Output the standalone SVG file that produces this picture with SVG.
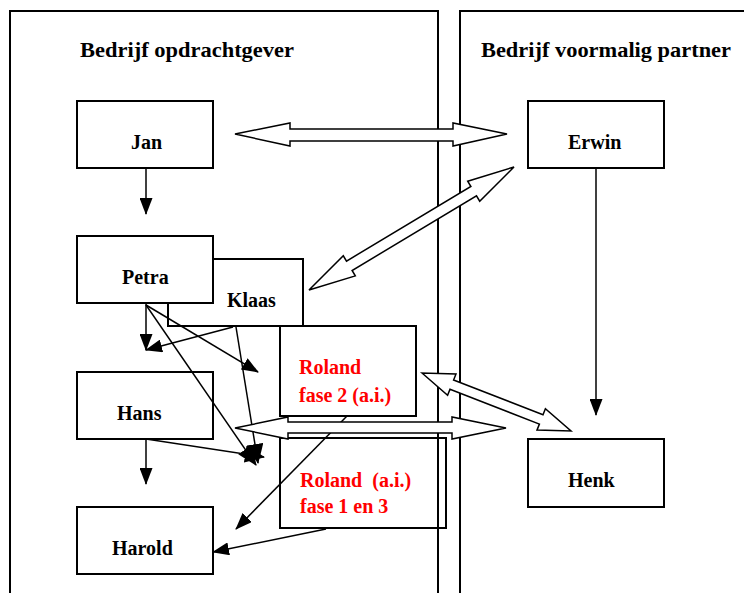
<svg xmlns="http://www.w3.org/2000/svg" width="744" height="593" viewBox="0 0 744 593">
  <style>
    .frame { fill: none; stroke: #000; stroke-width: 2; }
    .box { fill: #fff; stroke: #000; stroke-width: 2; }
    .open { fill: none; stroke: #000; stroke-width: 2; }
    .lbl { font-family: "Liberation Serif", "Times New Roman", serif; font-weight: bold; font-size: 20px; fill: #000; }
    .title { font-size: 21px; }
    .red { fill: #f00; }
    .ln { fill: none; stroke: #000; stroke-width: 1.5; marker-end: url(#ah); }
    .ln.big { marker-end: url(#ah-big); }
    .blk { fill: #fff; stroke: #000; stroke-width: 1.5; stroke-linejoin: miter; }
  </style>
  <defs>
    <marker id="ah" markerWidth="17" markerHeight="13" refX="16" refY="6.5" orient="auto" markerUnits="userSpaceOnUse">
      <path d="M0,0 L17,6.5 L0,13 z" fill="#000"/>
    </marker>
    <marker id="ah-big" markerWidth="20" markerHeight="17" refX="19" refY="8.5" orient="auto" markerUnits="userSpaceOnUse">
      <path d="M0,0 L20,8.5 L0,17 z" fill="#000"/>
    </marker>
  </defs>
  <rect width="744" height="593" fill="#fff"/>

  <!-- company frames -->
  <g id="frame-opdrachtgever">
    <path class="frame" d="M10,593 V11 H438 V593"/>
    <text class="lbl title" x="80" y="57" textLength="214" lengthAdjust="spacingAndGlyphs">Bedrijf opdrachtgever</text>
  </g>
  <g id="frame-partner">
    <path class="frame" d="M460,593 V11 H750"/>
    <text class="lbl title" x="481" y="57" textLength="250" lengthAdjust="spacingAndGlyphs">Bedrijf voormalig partner</text>
  </g>

  <!-- people -->
  <g id="klaas">
    <rect class="box" x="168" y="259" width="135" height="67"/>
    <text class="lbl" x="227" y="307">Klaas</text>
  </g>
  <g id="petra">
    <rect class="box" x="77" y="236" width="136" height="67"/>
    <text class="lbl" x="122" y="284">Petra</text>
  </g>
  <g id="jan">
    <rect class="box" x="77" y="101" width="136" height="67"/>
    <text class="lbl" x="131" y="149">Jan</text>
  </g>
  <g id="erwin">
    <rect class="box" x="528" y="101" width="136" height="67"/>
    <text class="lbl" x="568" y="149">Erwin</text>
  </g>
  <g id="hans">
    <rect class="box" x="77" y="372" width="136" height="67"/>
    <text class="lbl" x="117" y="420">Hans</text>
  </g>
  <g id="harold">
    <rect class="box" x="77" y="507" width="136" height="67"/>
    <text class="lbl" x="112" y="555">Harold</text>
  </g>
  <g id="henk">
    <rect class="box" x="528" y="439" width="136" height="68"/>
    <text class="lbl" x="568" y="487">Henk</text>
  </g>
  <g id="roland-fase2">
    <rect class="box" x="280" y="326" width="136" height="90"/>
    <text class="lbl red" x="299" y="374">Roland</text>
    <text class="lbl red" x="299" y="402">fase 2 (a.i.)</text>
  </g>
  <g id="roland-fase13">
    <rect class="open" x="280" y="438" width="166" height="90"/>
    <text class="lbl red" x="300" y="487" xml:space="preserve">Roland  (a.i.)</text>
    <text class="lbl red" x="300" y="513">fase 1 en 3</text>
  </g>

  <!-- connectors -->
  <g id="connectors">
    <path class="ln" d="M146,169 L146,214"/>
    <path class="ln" d="M596,168 L596,415"/>
    <path class="ln" d="M146,439 L146,484"/>
    <path class="ln" d="M146,304 L146,350"/>
    <path class="ln" d="M233,327 L146,350"/>
    <path class="ln" d="M146,305 L258,372"/>
    <path class="ln big" d="M146,305 L256,465"/>
    <path class="ln big" d="M236,327 L258,463"/>
    <path class="ln big" d="M146,439 L264,457"/>
    <path class="ln" d="M347,416 L236,529"/>
    <path class="ln" d="M326,529 L213,552"/>

    <!-- two-way block arrows -->
    <polygon class="blk" points="235,134 290,123 290,129 453,129 453,123 507,134 453,146 453,141 290,141 290,146"/>
    <polygon class="blk" points="514,167 479.7,201.2 476.5,195.9 352.1,270.5 355.3,275.9 309,290 343.3,255.8 346.5,261.1 470.9,186.5 467.7,181.2"/>
    <polygon class="blk" points="422,373 447.6,395.3 450,389.3 539.4,424.1 537,430.1 571,431 545.4,408.7 543,414.7 453.6,380 456,373.9"/>
    <polygon class="blk" points="235,428 288,417 288,422 452,422 452,417 506,428 452,439 452,433 288,433 288,439"/>
  </g>
</svg>
